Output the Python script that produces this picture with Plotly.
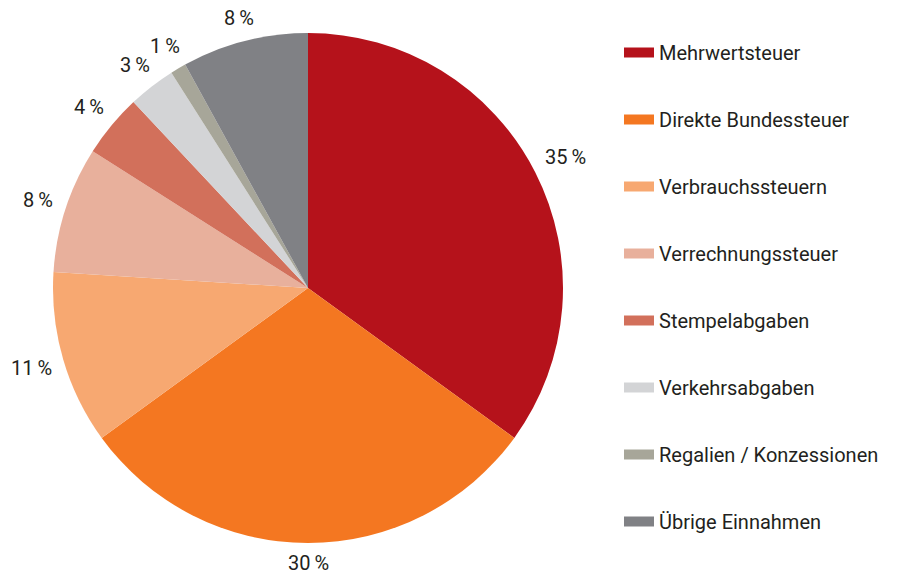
import math
import plotly.graph_objects as go

categories = ["Mehrwertsteuer", "Direkte Bundessteuer", "Verbrauchssteuern",
              "Verrechnungssteuer", "Stempelabgaben", "Verkehrsabgaben",
              "Regalien / Konzessionen", "Übrige Einnahmen"]
values = [35, 30, 11, 8, 4, 3, 1, 8]
colors = ["#B5121B", "#F47721", "#F7A871", "#E8B09C", "#D2705B",
          "#D3D4D6", "#A7A699", "#808185"]

FONT = "Roboto"
TXT = "#231f20"

W, H = 904, 577
CX, CY, R = 308, 288, 255
GAP = 12          # gap between pie edge and label box
HALF_H = 8        # approx half glyph height of labels

fig = go.Figure()
fig.add_trace(go.Pie(
    labels=categories, values=values, sort=False, direction="clockwise",
    rotation=0, marker=dict(colors=colors, line=dict(width=0)),
    textinfo="none", showlegend=False, hoverinfo="label+value",
    domain=dict(x=[(CX - R) / W, (CX + R) / W],
                y=[1 - (CY + R) / H, 1 - (CY - R) / H]),
))

# percentage labels placed radially outside each slice (derived from values)
total = sum(values)
cum = 0
for v in values:
    mid = (cum + v / 2) / total * 2 * math.pi
    cum += v
    s, c = math.sin(mid), math.cos(mid)
    half_w = 10 + 5 * len(str(v))
    d = R + GAP + half_w * abs(s) + HALF_H * abs(c)
    px = CX + d * s
    py = CY - d * c
    fig.add_annotation(
        x=px / W, y=1 - py / H, xref="paper", yref="paper",
        text=f"{v}\u2009%", showarrow=False, xanchor="center", yanchor="middle",
        font=dict(family=FONT, size=20, color=TXT), borderpad=0,
    )

for name, col in zip(categories, colors):
    fig.add_trace(go.Scatter(
        x=[None], y=[None], mode="lines", name=name, legendgroup=name,
        line=dict(color=col, width=15), hoverinfo="skip",
    ))

fig.update_layout(
    width=W, height=H, margin=dict(l=0, r=0, t=0, b=0),
    paper_bgcolor="white", plot_bgcolor="white",
    xaxis=dict(visible=False), yaxis=dict(visible=False),
    legend=dict(x=619 / W, xanchor="left", y=1 - 33 / H, yanchor="top",
                traceorder="grouped", tracegroupgap=38,
                font=dict(family=FONT, size=20, color=TXT),
                bgcolor="rgba(0,0,0,0)"),
    font=dict(family=FONT, color=TXT),
)

fig.write_html("out.html", config={"displayModeBar": False},
               post_script="document.body.style.margin='0';")
